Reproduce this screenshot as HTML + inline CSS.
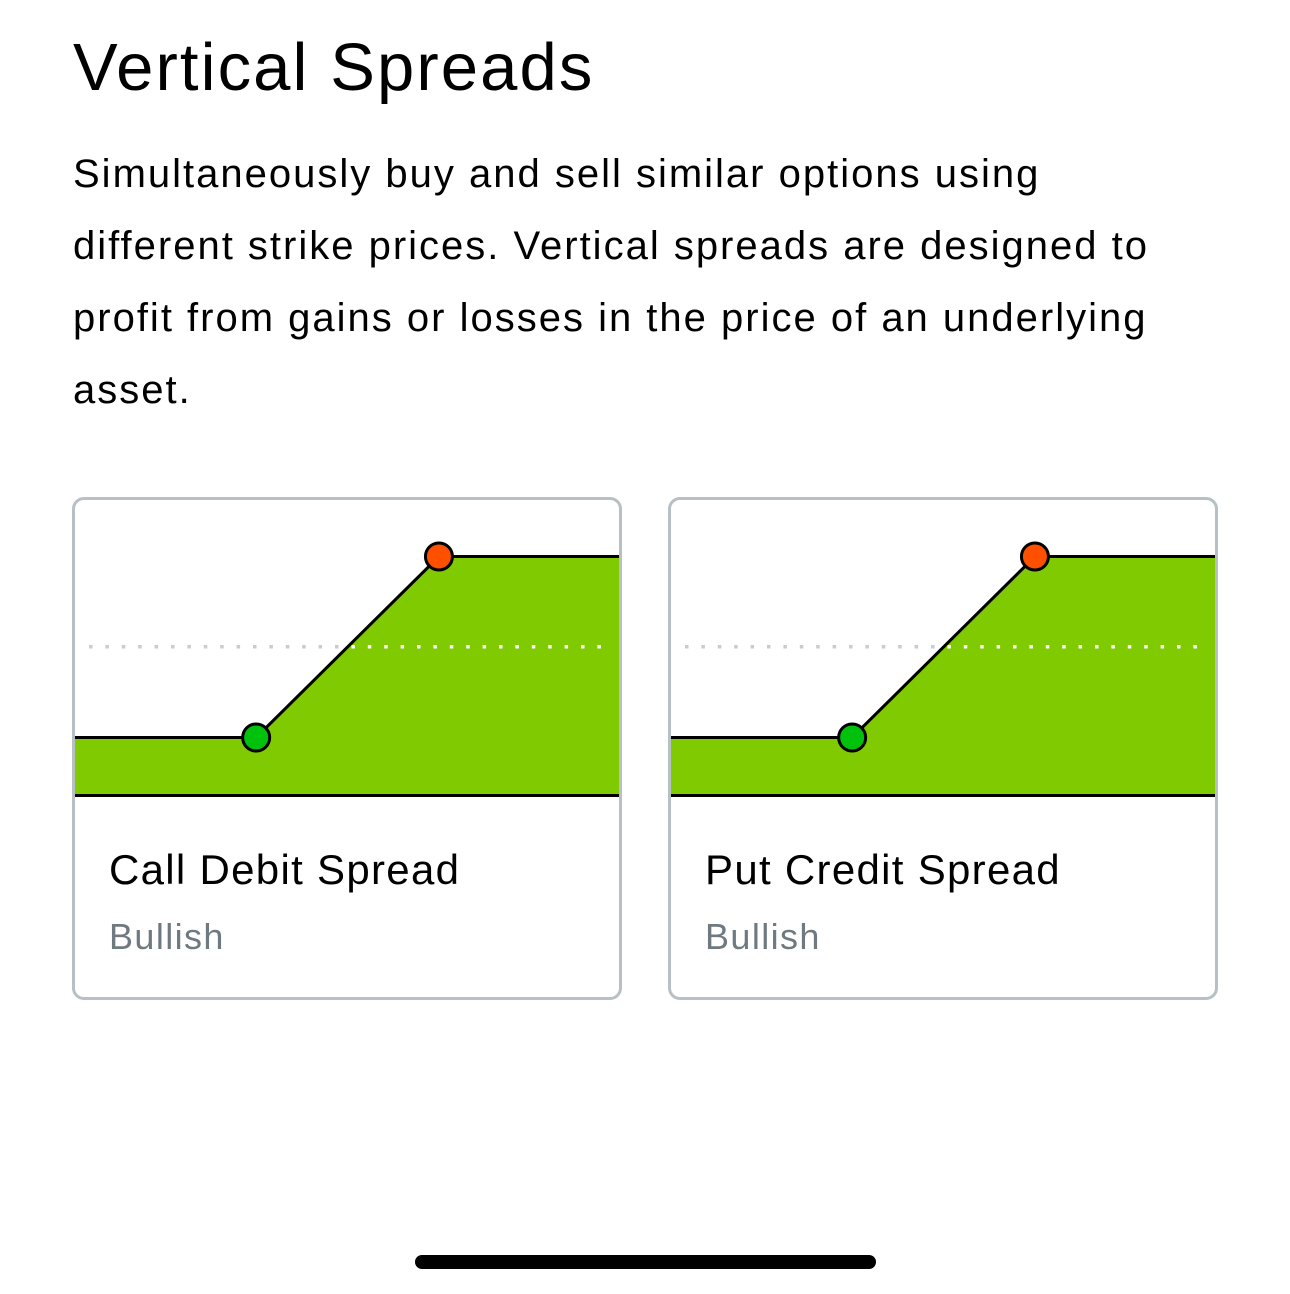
<!DOCTYPE html>
<html><head><meta charset="utf-8">
<style>
body{margin:0;width:1290px;height:1294px;background:#fff;position:relative;overflow:hidden;font-family:"Liberation Sans",sans-serif;color:#000}
.t{position:absolute;white-space:nowrap}
#title{left:73px;top:28px;font-size:67px;line-height:80px;letter-spacing:2.1px}
.p{left:73px;font-size:40px;line-height:48px;letter-spacing:2.0px}
.card{position:absolute;top:497px;width:544px;height:497px;border:3px solid #b7c0c4;border-radius:12px;overflow:hidden;box-sizing:content-box}
.card svg{position:absolute;left:0;top:0}
.ct{position:absolute;left:34px;top:345px;font-size:42px;line-height:50px;white-space:nowrap;letter-spacing:1.3px}
.cs{position:absolute;left:34px;top:415px;font-size:36px;line-height:44px;color:#6e7a80;white-space:nowrap;letter-spacing:1.4px}
#home{position:absolute;left:415px;top:1255px;width:461px;height:14px;border-radius:7px;background:#000}
</style></head><body>
<div class="t" id="title">Vertical Spreads</div>
<div class="t p" style="top:150px">Simultaneously buy and sell similar options using</div>
<div class="t p" style="top:222px">different strike prices. Vertical spreads are designed to</div>
<div class="t p" style="top:294px">profit from gains or losses in the price of an underlying</div>
<div class="t p" style="top:366px">asset.</div>

<div class="card" style="left:72px" id="card1">
<svg width="545" height="300" id="svg1"></svg>
<div class="ct">Call Debit Spread</div>
<div class="cs">Bullish</div>
</div>
<div class="card" style="left:668px" id="card2">
<svg width="545" height="300" id="svg2"></svg>
<div class="ct">Put Credit Spread</div>
<div class="cs">Bullish</div>
</div>
<div id="home"></div>
<script>
// payoff data: price (0-100) vs profit (-1..1)
const strikes1 = [33.3, 66.9];
const strikes2 = [33.3, 66.9];
const payoffRange = [-1, 1];
const NS="http://www.w3.org/2000/svg";
function draw(svgId, strikes){
  const svg=document.getElementById(svgId);
  const xs=v=>0+v/100*544;
  const ys=v=>147-v*90.5;
  const bottom=296;
  const lo=payoffRange[0], hi=payoffRange[1];
  const pts=[[0,lo],[strikes[0],lo],[strikes[1],hi],[100,hi]];
  const line=pts.map(p=>xs(p[0])+','+ys(p[1])).join(' ');
  const area=document.createElementNS(NS,'polygon');
  area.setAttribute('points',line+' '+xs(100)+','+bottom+' '+xs(0)+','+bottom);
  area.setAttribute('fill','#7fca00');
  
  
  svg.appendChild(area);
  for(let x=14;x<535;x+=16.4){
    const r=document.createElementNS(NS,'rect');
    r.setAttribute('x',x);r.setAttribute('y',ys(0)-2);r.setAttribute('width',3.5);r.setAttribute('height',3.5);
    const px=x/544*100;
    let yl; if(px<strikes[0]) yl=lo; else if(px>strikes[1]) yl=hi; else yl=lo+(hi-lo)*(px-strikes[0])/(strikes[1]-strikes[0]);
    r.setAttribute('fill', yl>0?'#ffffff':'#c8cccd');
    
    
    svg.appendChild(r);
  }
  const pl=document.createElementNS(NS,'polyline');
  pl.setAttribute('points',line);pl.setAttribute('fill','none');pl.setAttribute('stroke','#000');pl.setAttribute('stroke-width','3');
  
  
  svg.appendChild(pl);
  const b=document.createElementNS(NS,'rect');
  b.setAttribute('x',0);b.setAttribute('y',bottom-2);b.setAttribute('width',545);b.setAttribute('height',3);b.setAttribute('fill','#000');
  
  
  svg.appendChild(b);
  [[strikes[0],lo,'#00c20d','lower-strike-dot'],[strikes[1],hi,'#ff5000','upper-strike-dot']].forEach(d=>{
    const c=document.createElementNS(NS,'circle');
    c.setAttribute('cx',xs(d[0]));c.setAttribute('cy',ys(d[1]));c.setAttribute('r',13.5);
    c.setAttribute('fill',d[2]);c.setAttribute('stroke','#000');c.setAttribute('stroke-width','3');
    
    
    svg.appendChild(c);
  });
}
draw('svg1',strikes1);
draw('svg2',strikes2);
</script>
</body></html>
